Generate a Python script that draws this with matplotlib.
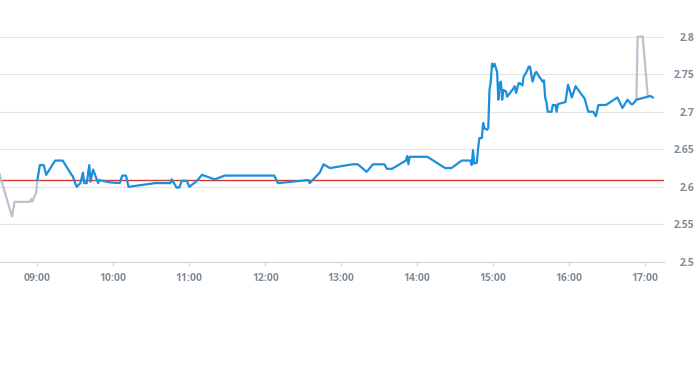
import matplotlib
matplotlib.use("Agg")
import matplotlib.pyplot as plt
from matplotlib.ticker import FuncFormatter

# notowania w ciągu dnia (czas, kurs)
sesja_czas = [
    "09:00", "09:02", "09:05", "09:07", "09:14", "09:20", "09:27", "09:28", "09:31", "09:34",
    "09:36", "09:37", "09:39", "09:41", "09:42", "09:44", "09:48", "09:49", "09:57", "10:05",
    "10:07", "10:10", "10:12", "10:33", "10:45", "10:46", "10:50", "10:52", "10:54", "10:58",
    "11:00", "11:06", "11:10", "11:20", "11:28", "12:07", "12:10", "12:34", "12:35", "12:43",
    "12:46", "12:51", "13:09", "13:13", "13:20", "13:25", "13:34", "13:36", "13:40", "13:51",
    "13:52", "13:53", "13:54", "14:08", "14:22", "14:27", "14:35", "14:42", "14:43", "14:44",
    "14:45", "14:47", "14:48", "14:49", "14:51", "14:52", "14:53", "14:55", "14:56", "14:57",
    "14:58", "14:59", "15:00", "15:01", "15:03", "15:04", "15:05", "15:06", "15:07", "15:08",
    "15:10", "15:11", "15:15", "15:17", "15:18", "15:20", "15:21", "15:23", "15:24", "15:26",
    "15:28", "15:29", "15:31", "15:33", "15:34", "15:35", "15:37", "15:39", "15:40", "15:41",
    "15:42", "15:43", "15:46", "15:47", "15:49", "15:50", "15:51", "15:57", "15:59", "16:02",
    "16:05", "16:11", "16:12", "16:15", "16:19", "16:21", "16:23", "16:29", "16:38", "16:42",
    "16:46", "16:49", "16:50", "16:53", "17:04", "17:06",
]
sesja_kurs = [
    2.609, 2.629, 2.629, 2.616, 2.635, 2.635, 2.616, 2.614, 2.600, 2.605,
    2.619, 2.605, 2.605, 2.629, 2.607, 2.623, 2.605, 2.609, 2.606, 2.605,
    2.615, 2.615, 2.600, 2.605, 2.605, 2.610, 2.599, 2.599, 2.608, 2.608,
    2.600, 2.608, 2.616, 2.610, 2.615, 2.615, 2.605, 2.609, 2.605, 2.619,
    2.630, 2.625, 2.630, 2.630, 2.620, 2.630, 2.630, 2.624, 2.624, 2.635,
    2.641, 2.630, 2.640, 2.640, 2.625, 2.625, 2.635, 2.635, 2.629, 2.649,
    2.631, 2.632, 2.651, 2.665, 2.665, 2.685, 2.678, 2.676, 2.678, 2.729,
    2.740, 2.764, 2.760, 2.764, 2.753, 2.716, 2.738, 2.740, 2.716, 2.729,
    2.727, 2.720, 2.729, 2.734, 2.725, 2.738, 2.738, 2.735, 2.747, 2.752,
    2.760, 2.760, 2.740, 2.751, 2.753, 2.750, 2.745, 2.740, 2.742, 2.718,
    2.713, 2.700, 2.700, 2.709, 2.709, 2.700, 2.710, 2.713, 2.736, 2.719,
    2.734, 2.720, 2.718, 2.700, 2.700, 2.694, 2.709, 2.709, 2.719, 2.705,
    2.716, 2.710, 2.710, 2.716, 2.721, 2.719,
]

# przed sesją i po sesji (szara linia)
przed_czas = ["08:30", "08:40", "08:42", "08:54", "08:55", "08:56", "08:58", "08:59", "09:00"]
przed_kurs = [2.618, 2.560, 2.580, 2.580, 2.583, 2.580, 2.589, 2.591, 2.609]
po_czas = ["16:53", "16:54", "16:58", "17:02"]
po_kurs = [2.716, 2.800, 2.800, 2.720]

kurs_odniesienia = 2.609

godziny = ["09:00", "10:00", "11:00", "12:00", "13:00", "14:00", "15:00", "16:00", "17:00"]
poziomy = [2.5, 2.55, 2.6, 2.65, 2.7, 2.75, 2.8]


def minuty(s):
    h, m = s.split(":")
    return int(h) * 60 + int(m)


label_color = "#7f8c98"
plt.rcParams["font.family"] = ["Open Sans", "DejaVu Sans"]

fig = plt.figure(figsize=(6.95, 3.70), dpi=100)
ax = fig.add_axes([0.0, 0.292, 0.9554, 0.609])

ax.axhline(kurs_odniesienia, color="#d43a35", lw=1.0, zorder=3)
ax.plot([minuty(t) for t in przed_czas], przed_kurs, color="#b9c4ce", lw=1.6,
        zorder=4, clip_on=False, solid_joinstyle="miter")
ax.plot([minuty(t) for t in po_czas], po_kurs, color="#b9c4ce", lw=1.6,
        zorder=4, clip_on=False, solid_joinstyle="miter")
ax.plot([minuty(t) for t in sesja_czas], sesja_kurs, color="#1b8fdc", lw=1.6,
        zorder=5, clip_on=False)

ax.set_xlim(510.5, 1034.8)
ax.set_ylim(2.5, 2.8)

ax.set_xticks([minuty(g) for g in godziny])
ax.set_xticklabels(godziny)
ax.set_yticks(poziomy)
ax.yaxis.set_major_formatter(FuncFormatter(lambda v, p: "%g" % v))
ax.yaxis.tick_right()

ax.grid(axis="y", color="#e6e6e6", lw=0.8, zorder=0)
for side in ["top", "left", "right"]:
    ax.spines[side].set_visible(False)
ax.spines["bottom"].set_color("#ccd5dd")
ax.spines["bottom"].set_linewidth(0.8)

ax.tick_params(axis="x", length=3, width=0.8, color="#ccd5dd", pad=5,
               labelsize=7.5, labelcolor=label_color)
ax.tick_params(axis="y", length=0, pad=22, labelsize=7.5, labelcolor=label_color)
for lbl in ax.get_xticklabels() + ax.get_yticklabels():
    lbl.set_fontweight("bold")
for lbl in ax.get_yticklabels():
    lbl.set_horizontalalignment("right")

fig.savefig("out.png", dpi=100)
